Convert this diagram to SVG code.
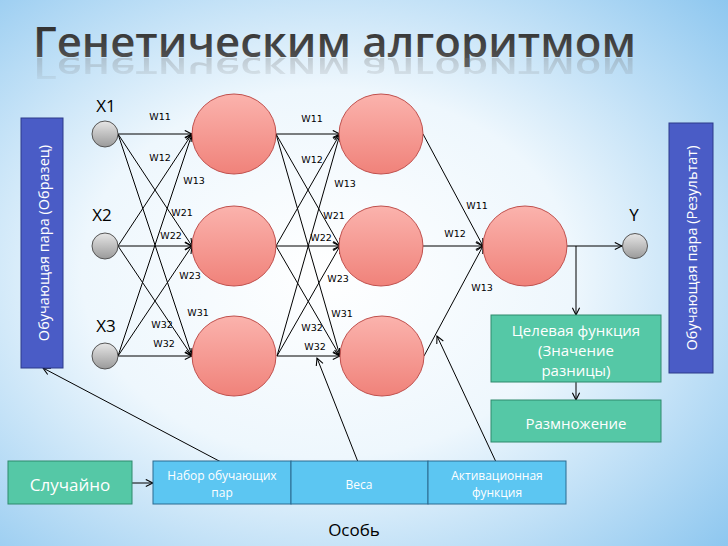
<svg xmlns="http://www.w3.org/2000/svg" width="728" height="546" viewBox="0 0 728 546">
  <defs>
    <radialGradient id="bg" cx="0.45" cy="0.5" r="0.75">
      <stop offset="0" stop-color="#ffffff"/>
      <stop offset="0.45" stop-color="#eef7fd"/>
      <stop offset="1" stop-color="#8cc6ef"/>
    </radialGradient>
    <linearGradient id="pink" x1="0" y1="0" x2="0" y2="1">
      <stop offset="0" stop-color="#fbb3ad"/>
      <stop offset="1" stop-color="#f0827a"/>
    </linearGradient>
    <linearGradient id="gray" x1="0" y1="0" x2="0" y2="1">
      <stop offset="0" stop-color="#e6e6e6"/>
      <stop offset="1" stop-color="#9a9a9a"/>
    </linearGradient>
    <linearGradient id="titleg" x1="0" y1="0" x2="0" y2="1">
      <stop offset="0" stop-color="#262626"/>
      <stop offset="1" stop-color="#5a5a5a"/>
    </linearGradient>
    <linearGradient id="reflg" x1="0" y1="0" x2="0" y2="1">
      <stop offset="0" stop-color="#ffffff" stop-opacity="1"/>
      <stop offset="0.6" stop-color="#ffffff" stop-opacity="0.5"/>
      <stop offset="1" stop-color="#ffffff" stop-opacity="0"/>
    </linearGradient>
    <mask id="reflmask" maskUnits="userSpaceOnUse" x="0" y="58" width="728" height="28">
      <rect x="0" y="58" width="728" height="28" fill="url(#reflg)"/>
    </mask>
    <marker id="arr" viewBox="0 0 10 10" refX="9" refY="5" markerWidth="9" markerHeight="9" markerUnits="userSpaceOnUse" orient="auto">
      <path d="M1,1 L9,5 L1,9" fill="none" stroke="#000" stroke-width="1.2"/>
    </marker>
    <style>
      .conn line, .conn path { stroke: #000; stroke-width: 1; fill: none; }
      .a { marker-end: url(#arr); }
      .neuron { fill: url(#pink); stroke: #c0504d; stroke-width: 1; }
      .inp { fill: url(#gray); stroke: #555; stroke-width: 1; }
      .w { font-family: "DejaVu Sans", "Liberation Sans", sans-serif; font-size: 9.5px; fill: #000; text-anchor: middle; dominant-baseline: central; }
      .lbl { font-family: "Open Sans", "DejaVu Sans", sans-serif; font-size: 17px; fill: #000; text-anchor: middle; dominant-baseline: central; }
      .green { fill: #55c8a6; stroke: #2e8a6c; stroke-width: 1; }
      .blue { fill: #5cc6f2; stroke: #2a6a90; stroke-width: 1; }
      .side { fill: #4a5cc6; stroke: #2d3a8a; stroke-width: 1; }
      .wt { font-family: "Open Sans", "DejaVu Sans", sans-serif; fill: #fff; text-anchor: middle; dominant-baseline: central; }
      .ttl { font-family: "Open Sans", "DejaVu Sans", sans-serif; font-size: 41px; font-weight: 600; }
    </style>
  </defs>

  <rect width="728" height="546" fill="url(#bg)"/>

  <!-- Title -->
  <g id="title">
    <text class="ttl" x="33" y="57" fill="url(#titleg)" textLength="603" lengthAdjust="spacingAndGlyphs">Генетическим алгоритмом</text>
    <g mask="url(#reflmask)" opacity="0.3">
      <text class="ttl" x="33" y="57" transform="translate(0,99.3) scale(1,-0.74)" fill="#777" textLength="603" lengthAdjust="spacingAndGlyphs" aria-hidden="true">Генетическим алгоритмом</text>
    </g>
  </g>

  <!-- Connectors -->
  <g class="conn" id="connectors">
    <line class="a" x1="118" y1="134" x2="192" y2="134"/>
    <line class="a" x1="118" y1="134" x2="192" y2="246"/>
    <line class="a" x1="118" y1="134" x2="192" y2="356"/>
    <line class="a" x1="118" y1="246" x2="192" y2="134"/>
    <line class="a" x1="118" y1="246" x2="192" y2="246"/>
    <line class="a" x1="118" y1="246" x2="192" y2="356"/>
    <line class="a" x1="118" y1="356" x2="192" y2="134"/>
    <line class="a" x1="118" y1="356" x2="192" y2="246"/>
    <line class="a" x1="118" y1="356" x2="192" y2="356"/>
    <line class="a" x1="276" y1="134" x2="340" y2="134"/>
    <line class="a" x1="276" y1="134" x2="340" y2="246"/>
    <line class="a" x1="276" y1="134" x2="340" y2="356"/>
    <line class="a" x1="276" y1="246" x2="340" y2="134"/>
    <line class="a" x1="276" y1="246" x2="340" y2="246"/>
    <line class="a" x1="276" y1="246" x2="340" y2="356"/>
    <line class="a" x1="277" y1="356" x2="340" y2="134"/>
    <line class="a" x1="277" y1="356" x2="340" y2="246"/>
    <line class="a" x1="277" y1="356" x2="340" y2="356"/>
    <line class="a" x1="423" y1="134" x2="483" y2="246"/>
    <line class="a" x1="423" y1="246" x2="483" y2="246"/>
    <line class="a" x1="424" y1="356" x2="483" y2="246"/>
    <line class="a" x1="567" y1="246" x2="622" y2="246"/>
    <line class="a" x1="576" y1="246" x2="576" y2="315"/>
    <line class="a" x1="576" y1="382" x2="576" y2="400"/>
    <line class="a" x1="132" y1="483" x2="153" y2="483"/>
    <line class="a" x1="221" y1="462" x2="43" y2="368"/>
    <line class="a" x1="358" y1="462" x2="317" y2="358"/>
    <line class="a" x1="496" y1="462" x2="437" y2="336"/>
  </g>

  <!-- Weight labels -->
  <g id="weights">
    <text class="w" x="160" y="116">W11</text>
    <text class="w" x="160" y="157">W12</text>
    <text class="w" x="194" y="180">W13</text>
    <text class="w" x="182" y="212">W21</text>
    <text class="w" x="171" y="235">W22</text>
    <text class="w" x="190" y="275">W23</text>
    <text class="w" x="198" y="312">W31</text>
    <text class="w" x="162" y="324">W32</text>
    <text class="w" x="164" y="343">W32</text>

    <text class="w" x="312" y="118">W11</text>
    <text class="w" x="312" y="159">W12</text>
    <text class="w" x="345" y="183">W13</text>
    <text class="w" x="334" y="215">W21</text>
    <text class="w" x="321" y="237">W22</text>
    <text class="w" x="338" y="278">W23</text>
    <text class="w" x="342" y="313">W31</text>
    <text class="w" x="312" y="327">W32</text>
    <text class="w" x="315" y="346">W32</text>

    <text class="w" x="477" y="205">W11</text>
    <text class="w" x="455" y="233">W12</text>
    <text class="w" x="482" y="287">W13</text>
  </g>

  <!-- Input nodes -->
  <g id="x1"><circle class="inp" cx="105" cy="134" r="13"/><text class="lbl" x="106" y="105">X1</text></g>
  <g id="x2"><circle class="inp" cx="105" cy="246" r="13"/><text class="lbl" x="102" y="214">X2</text></g>
  <g id="x3"><circle class="inp" cx="105" cy="356" r="13"/><text class="lbl" x="106" y="325">X3</text></g>

  <!-- Hidden layer 1 -->
  <g id="h11"><ellipse class="neuron" cx="234" cy="134" rx="42" ry="40"/></g>
  <g id="h12"><ellipse class="neuron" cx="234" cy="246" rx="42" ry="40"/></g>
  <g id="h13"><ellipse class="neuron" cx="234" cy="356" rx="42" ry="40"/></g>

  <!-- Hidden layer 2 -->
  <g id="h21"><ellipse class="neuron" cx="381" cy="134" rx="42" ry="40"/></g>
  <g id="h22"><ellipse class="neuron" cx="381" cy="246" rx="42" ry="40"/></g>
  <g id="h23"><ellipse class="neuron" cx="382" cy="356" rx="42" ry="40"/></g>

  <!-- Output -->
  <g id="out"><ellipse class="neuron" cx="525" cy="246" rx="42" ry="40"/></g>
  <g id="y"><circle class="inp" cx="635" cy="246" r="12.5"/><text class="lbl" x="634" y="214">Y</text></g>

  <!-- Side boxes -->
  <g id="left-pair">
    <rect class="side" x="21" y="118" width="42" height="250"/>
    <text class="wt" font-size="14.5" transform="translate(43,243) rotate(-90)" x="0" y="0">Обучающая пара (Образец)</text>
  </g>
  <g id="right-pair">
    <rect class="side" x="669" y="123" width="44" height="250"/>
    <text class="wt" font-size="14.5" transform="translate(691,248) rotate(-90)" x="0" y="0">Обучающая пара (Результат)</text>
  </g>

  <!-- Green boxes -->
  <g id="target">
    <rect class="green" x="491" y="315" width="170" height="67"/>
    <text class="wt" font-size="15" x="576" y="330">Целевая функция</text>
    <text class="wt" font-size="15" x="576" y="350">(Значение</text>
    <text class="wt" font-size="15" x="576" y="370">разницы)</text>
  </g>
  <g id="repro">
    <rect class="green" x="491" y="400" width="170" height="42"/>
    <text class="wt" font-size="15" x="576" y="423">Размножение</text>
  </g>
  <g id="random">
    <rect class="green" x="8" y="461" width="124" height="43"/>
    <text class="wt" font-size="17" x="70" y="484">Случайно</text>
  </g>

  <!-- Individual -->
  <g id="pairs">
    <rect class="blue" x="153" y="461" width="138" height="43"/>
    <text class="wt" font-size="12" x="222" y="475">Набор обучающих</text>
    <text class="wt" font-size="12" x="222" y="492">пар</text>
  </g>
  <g id="weights-box">
    <rect class="blue" x="291" y="461" width="137" height="43"/>
    <text class="wt" font-size="12" x="359" y="484">Веса</text>
  </g>
  <g id="activation">
    <rect class="blue" x="428" y="461" width="138" height="43"/>
    <text class="wt" font-size="12" x="497" y="475">Активационная</text>
    <text class="wt" font-size="12" x="497" y="492">функция</text>
  </g>
  <g id="individual-label">
    <text class="lbl" font-size="15" x="354" y="529">Особь</text>
  </g>
</svg>
